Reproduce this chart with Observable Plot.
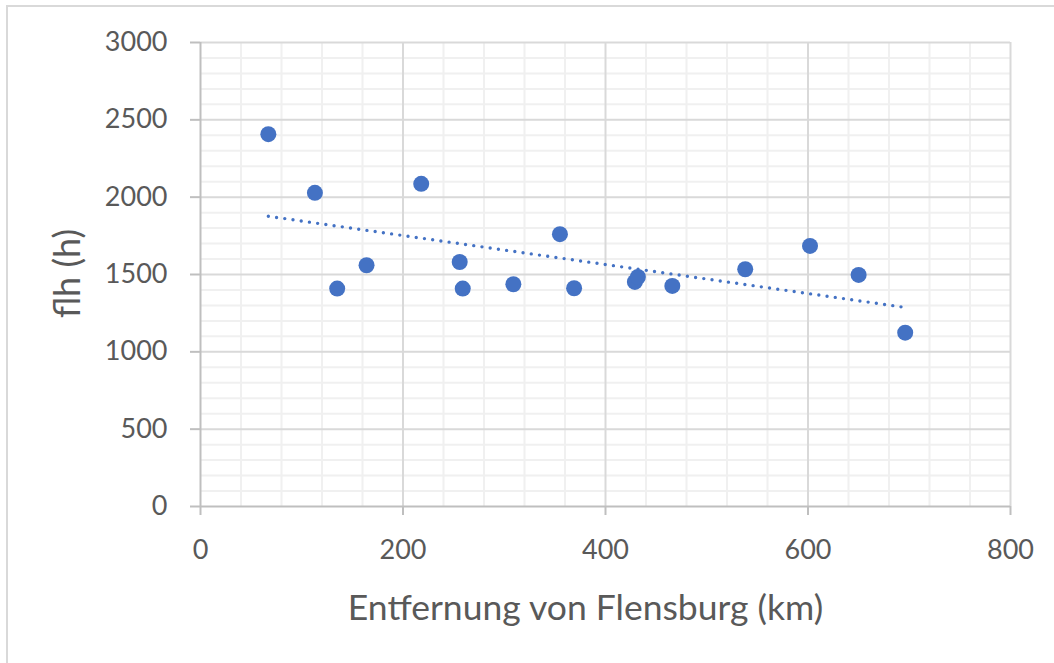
<!DOCTYPE html>
<html>
<head>
<meta charset="utf-8">
<script src="https://cdn.jsdelivr.net/npm/d3@7"></script>
<script src="https://cdn.jsdelivr.net/npm/@observablehq/plot@0.6"></script>
<style>
  html, body { margin: 0; padding: 0; background: #fff; }
  body { width: 1054px; height: 663px; overflow: hidden; position: relative; }
  #frame {
    position: absolute; left: 6px; top: 5px; width: 1100px; height: 700px;
    border-left: 2px solid #d9d9d9; border-top: 2px solid #d9d9d9;
    pointer-events: none;
  }
  #chart { position: absolute; left: 0; top: 0; }
</style>
</head>
<body>
<div id="chart"></div>
<div id="frame"></div>
<script>
// Distance from Flensburg (km) and full-load hours (h)
const distanceKm = [67, 113, 135, 164, 218, 256, 259, 309, 355, 369, 429, 432, 466, 538, 602, 650, 696];
const fullLoadHours = [2407, 2028, 1409, 1560, 2086, 1581, 1409, 1437, 1761, 1411, 1452, 1484, 1426, 1534, 1685, 1497, 1124];

const xTicks = [0, 200, 400, 600, 800];
const yTicks = [0, 500, 1000, 1500, 2000, 2500, 3000];
const xMinorStep = 40;
const yMinorStep = 100;

const xLabel = "Entfernung von Flensburg (km)";
const yLabel = "flh (h)";

const points = distanceKm.map((d, i) => ({distance: d, flh: fullLoadHours[i]}));

const xMinor = d3.range(0, 800 + 1, xMinorStep).filter(v => !xTicks.includes(v));
const yMinor = d3.range(0, 3000 + 1, yMinorStep).filter(v => !yTicks.includes(v));

const font = "Lato, 'Open Sans', sans-serif";
const blue = "#4472c4";

const chart = Plot.plot({
  width: 1054,
  height: 663,
  marginLeft: 200,
  marginRight: 44,
  marginTop: 42,
  marginBottom: 157,
  style: {fontFamily: font, background: "transparent", overflow: "visible"},
  x: {domain: [0, 800]},
  y: {domain: [0, 3000]},
  marks: [
    // minor grid
    Plot.ruleX(xMinor, {stroke: "#f0f0f0", strokeWidth: 2}),
    Plot.ruleY(yMinor, {stroke: "#f0f0f0", strokeWidth: 2}),
    // major grid
    Plot.ruleX(xTicks.filter(v => v > 0), {stroke: "#d9d9d9", strokeWidth: 2}),
    Plot.ruleY(yTicks.filter(v => v > 0), {stroke: "#d9d9d9", strokeWidth: 2}),
    // axis lines
    Plot.ruleX([0], {stroke: "#bfbfbf", strokeWidth: 2}),
    Plot.ruleY([0], {stroke: "#bfbfbf", strokeWidth: 2}),
    Plot.axisX({
      ticks: xTicks, tickSize: 9, tickPadding: 24, stroke: "#bfbfbf", strokeWidth: 2,
      fill: "#595959", fontSize: 27, label: null, tickFormat: d => String(d)
    }),
    Plot.axisY({
      ticks: yTicks, tickSize: 10, tickPadding: 23, stroke: "#bfbfbf", strokeWidth: 2,
      fill: "#595959", fontSize: 27, label: null, tickFormat: d => String(d)
    }),
    // data
    Plot.dot(points, {x: "distance", y: "flh", r: 8, fill: blue, stroke: "none"}),
    Plot.linearRegressionY(points, {
      x: "distance", y: "flh", ci: 0, stroke: blue, strokeWidth: 3.4,
      strokeDasharray: "0 8.3", strokeLinecap: "round"
    }),
    // axis titles
    Plot.text([xLabel], {
      frameAnchor: "bottom", dx: -20, dy: 113, lineAnchor: "bottom", textAnchor: "middle",
      text: d => d, fontSize: 35.5, fill: "#595959"
    }),
    Plot.text([yLabel], {
      frameAnchor: "left", dx: -132, dy: -1, rotate: -90, textAnchor: "middle",
      text: d => d, fontSize: 36, fill: "#595959"
    })
  ]
});

document.getElementById("chart").appendChild(chart);
</script>
</body>
</html>
